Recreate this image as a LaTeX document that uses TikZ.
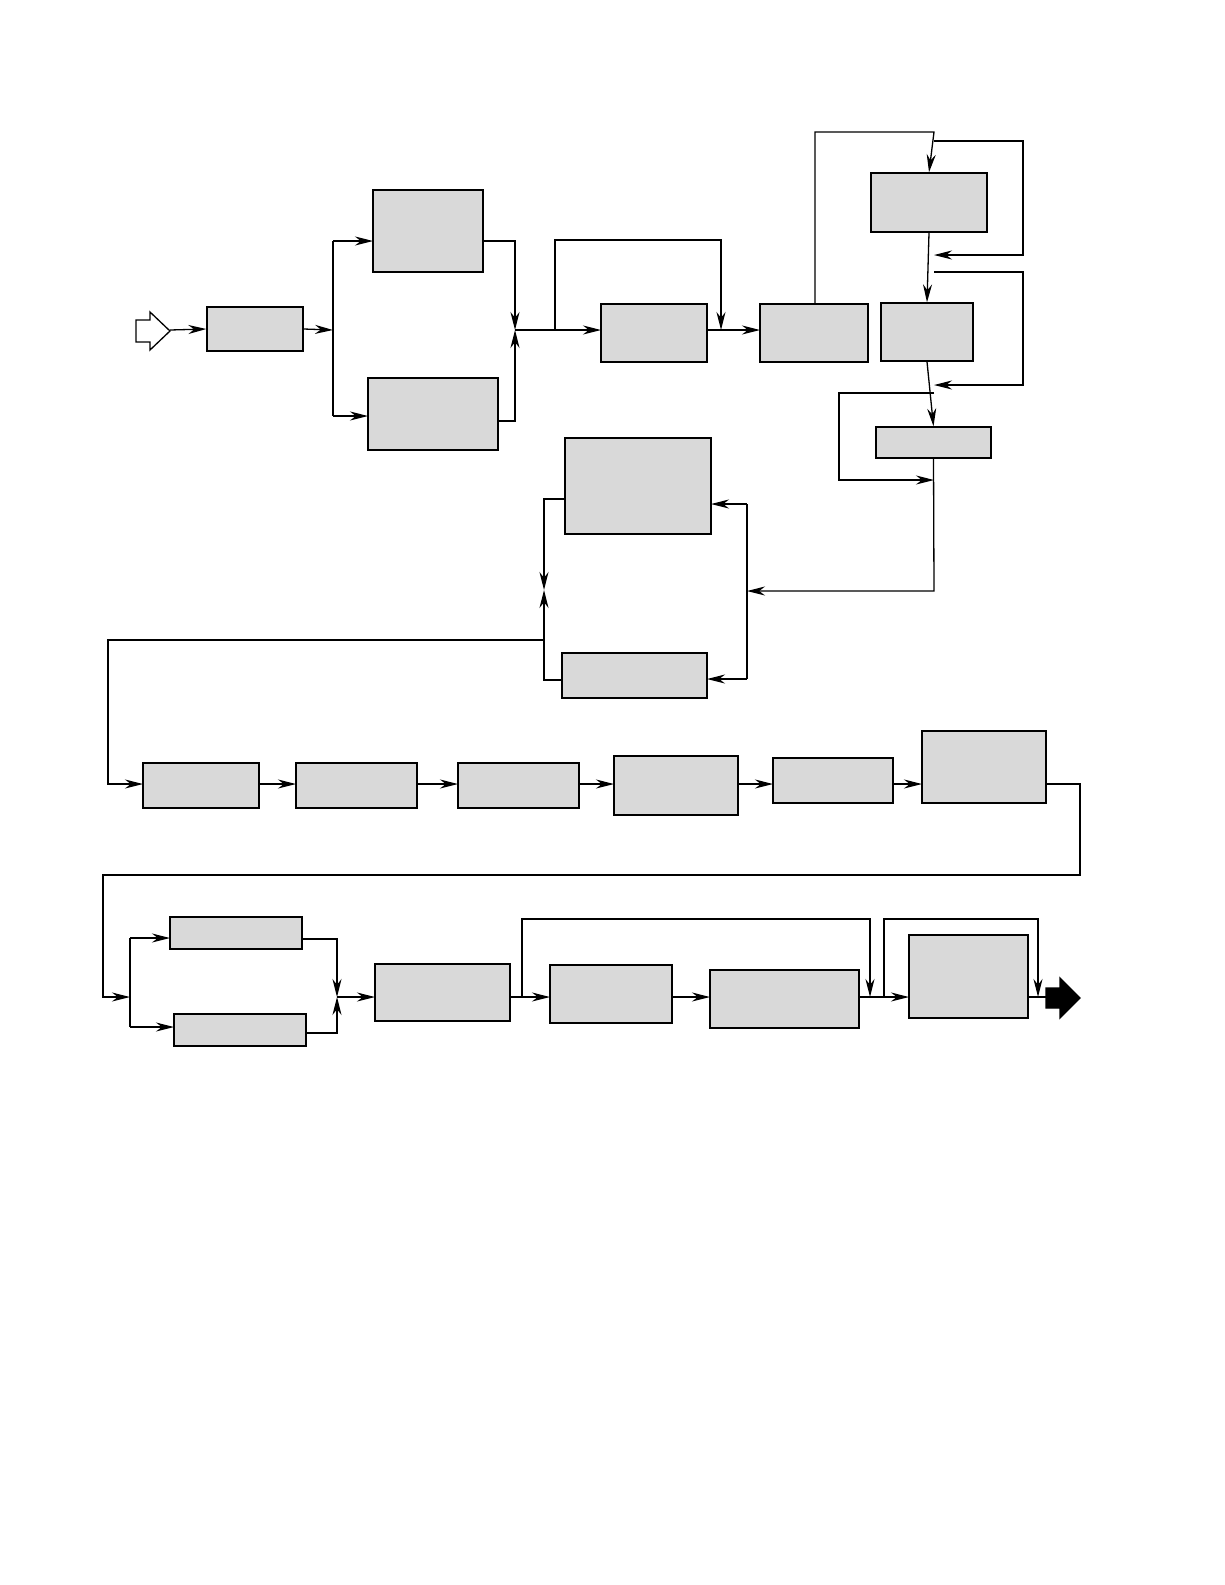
\documentclass[tikz,border=0pt]{standalone}
\usetikzlibrary{arrows.meta}
\newcommand{\bx}[5]{\node[box,minimum width={#4-#2},minimum height={#5-#3}] (#1) at ({(#2+#4)/2},{(#3+#5)/2}) {};}
\begin{document}
\begin{tikzpicture}[x=1pt,y=-1pt,
  box/.style={draw,line width=1.3pt,fill=black!15,inner sep=0pt},
  ln/.style={line width=1.3pt},
  ar/.style={ln,-{Stealth[length=18pt,width=9pt]}}]
\useasboundingbox (0,0) rectangle (1225,1585);
\bx{A}{207}{307}{303}{351}
\bx{B}{373}{190}{483}{272}
\bx{C}{368}{378}{498}{450}
\bx{D}{601}{304}{707}{362}
\bx{E}{760}{304}{868}{362}
\bx{F}{871}{173}{987}{232}
\bx{G}{881}{303}{973}{361}
\bx{H}{876}{427}{991}{458}
\bx{I}{565}{438}{711}{534}
\bx{J}{562}{653}{707}{698}
\bx{K1}{143}{763}{259}{808}
\bx{K2}{296}{763}{417}{808}
\bx{K3}{458}{763}{579}{808}
\bx{K4}{614}{756}{738}{815}
\bx{K5}{773}{758}{893}{803}
\bx{K6}{922}{731}{1046}{803}
\bx{L1}{170}{917}{302}{949}
\bx{L2}{174}{1014}{306}{1046}
\bx{L3}{375}{964}{510}{1021}
\bx{L4}{550}{965}{672}{1023}
\bx{L5}{710}{970}{859}{1028}
\bx{L6}{909}{935}{1028}{1018}
% input / output arrows
\draw[ln,fill=white] (136,320)--(150,320)--(150,312)--(170,331)--(150,350)--(150,342)--(136,342)--cycle;
\draw[ln,fill=black] (1046,988)--(1060,988)--(1060,978)--(1080,998)--(1060,1018)--(1060,1008)--(1046,1008)--cycle;
\coordinate (j1) at (333,330);
\coordinate (j2) at (515,330);
\coordinate (j3) at (544,590);
\coordinate (j4) at (337,997);
\draw[ar] (170,330)--(A.west);
\draw[ar] (A.east)--(j1);
\draw[ln] (333,241)--(333,416);
\draw[ar] (333,241)--(373,241);
\draw[ar] (333,416)--(368,416);
\draw[ar] (483,241)--(515,241)--(j2);
\draw[ar] (498,421)--(515,421)--(j2);
\draw[ar] (j2)--(601,330);
\draw[ar] (555,330)--(555,240)--(721,240)--(721,330);
\draw[ar] (707,330)--(760,330);
\draw[ar] (815,304)--(815,132)--(934,132)--(F.north);
\draw[ar] (934,141)--(1023,141)--(1023,255)--(934,255);
\draw[ar] (F.south)--(G.north);
\draw[ar] (934,272)--(1023,272)--(1023,385)--(934,385);
\draw[ar] (G.south)--(H.north);
\draw[ar] (934,393)--(839,393)--(839,480)--(934,480);
\draw[ar] (H.south)--(934,591)--(747,591);
\draw[ln] (747,504)--(747,679);
\draw[ar] (747,504)--(711,504);
\draw[ar] (747,679)--(707,679);
\draw[ar] (565,499)--(544,499)--(j3);
\draw[ar] (562,680)--(544,680)--(j3);
\draw[ar] (544,640)--(108,640)--(108,784)--(143,784);
\draw[ar] (259,784)--(296,784);
\draw[ar] (417,784)--(458,784);
\draw[ar] (579,784)--(614,784);
\draw[ar] (738,784)--(773,784);
\draw[ar] (893,784)--(922,784);
\draw[ar] (1046,784)--(1080,784)--(1080,875)--(103,875)--(103,997)--(130,997);
\draw[ln] (130,938)--(130,1027);
\draw[ar] (130,938)--(170,938);
\draw[ar] (130,1027)--(174,1027);
\draw[ar] (302,939)--(337,939)--(j4);
\draw[ar] (306,1033)--(337,1033)--(j4);
\draw[ar] (j4)--(375,997);
\draw[ar] (510,997)--(550,997);
\draw[ar] (522,997)--(522,919)--(870,919)--(870,997);
\draw[ar] (672,997)--(710,997);
\draw[ar] (859,997)--(909,997);
\draw[ar] (884,997)--(884,919)--(1038,919)--(1038,997);
\draw[ln] (1028,997)--(1046,997);
\end{tikzpicture}
\end{document}
